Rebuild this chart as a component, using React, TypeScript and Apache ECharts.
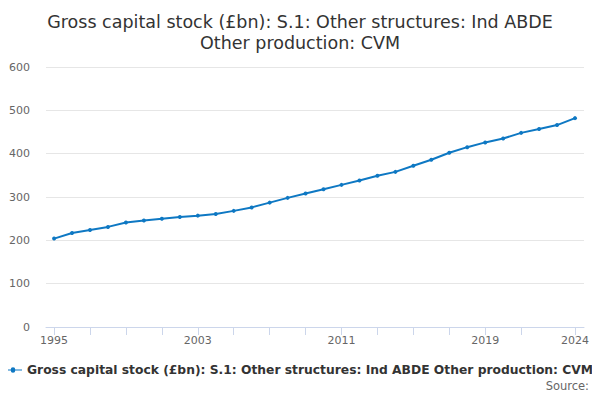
import React, { useEffect, useRef } from "react";
import * as echarts from "echarts";

const years = [
  1995, 1996, 1997, 1998, 1999, 2000, 2001, 2002, 2003, 2004, 2005, 2006, 2007, 2008, 2009,
  2010, 2011, 2012, 2013, 2014, 2015, 2016, 2017, 2018, 2019, 2020, 2021, 2022, 2023, 2024,
];
const values = [
  204, 217, 224, 231, 241, 246, 250, 254, 257, 261, 268, 276, 287, 298, 308,
  318, 328, 338, 349, 358, 372, 386, 402, 415, 426, 435, 448, 457, 466, 482,
];
const tickYears = [1995, 1997, 1999, 2001, 2003, 2005, 2007, 2009, 2011, 2013, 2015, 2017, 2019, 2021, 2024];
const labelYears = [1995, 2003, 2011, 2019, 2024];
const seriesName = "Gross capital stock (£bn): S.1: Other structures: Ind ABDE Other production: CVM";
const titleText = "Gross capital stock (£bn): S.1: Other structures: Ind ABDE\nOther production: CVM";

export default function App() {
  const ref = useRef<HTMLDivElement>(null);
  useEffect(() => {
    if (!ref.current) return;
    const chart = echarts.init(ref.current, undefined, { renderer: "svg" });
    const font = "DejaVu Sans, sans-serif";
    chart.setOption({
      animation: false,
      textStyle: { fontFamily: font },
      title: {
        text: titleText,
        left: "center",
        top: 6,
        textStyle: { fontSize: 17.5, fontWeight: "normal", color: "#333333", lineHeight: 21, fontFamily: font },
      },
      grid: { left: 46, right: 16, top: 67, bottom: 73 },
      xAxis: {
        type: "value",
        min: 1994.55,
        max: 2024.5,
        splitLine: { show: false },
        axisLine: { show: true, lineStyle: { color: "#ccd6eb" } },
        axisTick: { show: true, customValues: tickYears, length: 8, lineStyle: { color: "#ccd6eb" } },
        axisLabel: {
          customValues: labelYears,
          formatter: (v: number) => String(v),
          color: "#666666",
          fontSize: 11,
          margin: 8,
          fontFamily: font,
        },
      },
      yAxis: {
        type: "value",
        min: 0,
        max: 600,
        interval: 100,
        axisLine: { show: false },
        axisTick: { show: false },
        splitLine: { lineStyle: { color: "#e6e6e6" } },
        axisLabel: { color: "#666666", fontSize: 11, margin: 16, fontFamily: font },
      },
      legend: {
        left: 4,
        top: 364,
        padding: 0,
        itemWidth: 18,
        itemHeight: 6,
        itemGap: 5,
        data: [
          {
            name: seriesName,
            icon: "path://M0,2.5H7.5A2.5,2.5 0 0 1 12.5,2.5H20V3.5H12.5A2.5,2.5 0 0 1 7.5,3.5H0Z",
          },
        ],
        textStyle: { fontSize: 12.3, fontWeight: "bold", color: "#333333", fontFamily: font },
      },
      graphic: [
        {
          type: "text",
          x: 589,
          y: 386,
          style: {
            text: "Source:",
            fontSize: 11.5,
            fill: "#666666",
            fontFamily: font,
            align: "right",
            verticalAlign: "middle",
          },
        },
      ],
      series: [
        {
          name: seriesName,
          type: "line",
          data: years.map((y, i) => [y, values[i]]),
          symbol: "circle",
          symbolSize: 4,
          itemStyle: { color: "#0e78c3" },
          lineStyle: { width: 2, color: "#0e78c3" },
        },
      ],
    });
    return () => chart.dispose();
  }, []);
  return <div ref={ref} style={{ width: 600, height: 400, margin: -8 }} />;
}
